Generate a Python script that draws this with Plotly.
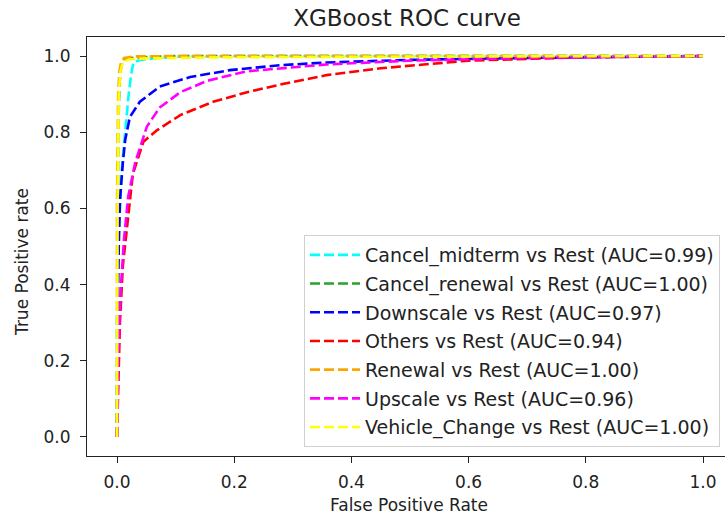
import plotly.graph_objects as go

# ---- data ----
class_names = ["Cancel_midterm", "Cancel_renewal", "Downscale", "Others",
               "Renewal", "Upscale", "Vehicle_Change"]
auc_values = [0.99, 1.00, 0.97, 0.94, 1.00, 0.96, 1.00]
line_colors = ["#00FFFF", "#2ca02c", "#0000FF", "#FF0000", "#FFA500", "#FF00FF", "#FFFF00"]

fpr_cancel_midterm = [0, 0.000, 0.002, 0.005, 0.008, 0.012, 0.016, 0.020, 0.024, 0.028, 0.04, 0.07, 0.1, 0.2, 0.5, 1.0]
tpr_cancel_midterm = [0, 0.30, 0.50, 0.62, 0.70, 0.77, 0.84, 0.90, 0.95, 0.983, 0.990, 0.995, 0.998, 1.0, 1.0, 1.0]

fpr_cancel_renewal = [0, 0.001, 0.002, 0.004, 0.006, 0.009, 0.014, 0.03, 0.06, 0.1, 1.0]
tpr_cancel_renewal = [0, 0.50, 0.80, 0.92, 0.96, 0.985, 0.993, 0.996, 0.998, 1.0, 1.0]

fpr_downscale = [0, 0.001, 0.003, 0.005, 0.010, 0.014, 0.022, 0.039, 0.073, 0.125, 0.193, 0.278, 0.358, 0.5, 0.7, 0.85, 1.0]
tpr_downscale = [0, 0.30, 0.50, 0.62, 0.72, 0.78, 0.84, 0.880, 0.920, 0.945, 0.963, 0.976, 0.983, 0.990, 0.995, 0.998, 1.0]

fpr_others = [0, 0.002, 0.005, 0.010, 0.017, 0.027, 0.045, 0.068, 0.108, 0.164, 0.222, 0.278, 0.358, 0.45, 0.6, 0.8, 1.0]
tpr_others = [0, 0.15, 0.30, 0.45, 0.55, 0.69, 0.775, 0.805, 0.845, 0.880, 0.905, 0.925, 0.950, 0.968, 0.988, 0.997, 1.0]

fpr_renewal = [0, 0.000, 0.002, 0.004, 0.007, 0.012, 0.03, 0.1, 1.0]
tpr_renewal = [0, 0.60, 0.90, 0.96, 0.985, 0.995, 0.999, 1.0, 1.0]

fpr_upscale = [0, 0.002, 0.006, 0.012, 0.019, 0.031, 0.051, 0.073, 0.108, 0.154, 0.222, 0.358, 0.5, 0.7, 0.85, 1.0]
tpr_upscale = [0, 0.20, 0.38, 0.52, 0.63, 0.72, 0.815, 0.865, 0.905, 0.935, 0.960, 0.978, 0.988, 0.995, 0.998, 1.0]

fpr_vehicle_change = [0, 0.001, 0.003, 0.006, 0.010, 0.02, 0.05, 0.2, 0.6, 1.0]
tpr_vehicle_change = [0, 0.60, 0.90, 0.96, 0.985, 0.991, 0.994, 0.997, 0.999, 1.0]

fprs = [fpr_cancel_midterm, fpr_cancel_renewal, fpr_downscale, fpr_others,
        fpr_renewal, fpr_upscale, fpr_vehicle_change]
tprs = [tpr_cancel_midterm, tpr_cancel_renewal, tpr_downscale, tpr_others,
        tpr_renewal, tpr_upscale, tpr_vehicle_change]

x_ticks = [0.0, 0.2, 0.4, 0.6, 0.8, 1.0]
y_ticks = [0.0, 0.2, 0.4, 0.6, 0.8, 1.0]

FONT = "DejaVu Sans"
TXT = "#222222"

fig = go.Figure()
for i, name in enumerate(class_names):
    fig.add_trace(go.Scatter(
        x=fprs[i], y=tprs[i], mode="lines",
        name=f"{name} vs Rest (AUC={auc_values[i]:.2f})",
        legendgroup=f"g{i}",
        line=dict(color=line_colors[i], width=2.6, dash="10px,4px"),
    ))

fig.update_layout(
    width=725, height=523,
    margin=dict(l=87, r=0, t=37, b=67),
    paper_bgcolor="white", plot_bgcolor="white",
    font=dict(family=FONT, size=17, color=TXT),
    title=dict(text="XGBoost ROC curve", x=407/725, xref="container", xanchor="center",
               y=1 - 18/523, yref="container", yanchor="middle",
               font=dict(size=23, family=FONT, color=TXT)),
    showlegend=True,
    legend=dict(x=(720 - 87)/638, xanchor="right", y=(456 - 447)/419, yanchor="bottom",
                bgcolor="rgba(255,255,255,0.85)", bordercolor="#d0d0d0", borderwidth=1,
                font=dict(size=19, family=FONT, color=TXT),
                tracegroupgap=1, itemwidth=50),
    xaxis=dict(range=[-0.0512, 1.0375], tickvals=x_ticks, ticktext=[f"{v:.1f}" for v in x_ticks],
               showgrid=False, zeroline=False, showline=True, linecolor="#222", linewidth=1,
               mirror=True, ticks="outside", ticklen=6, tickcolor="#222", ticklabelstandoff=5),
    yaxis=dict(range=[-0.05, 1.05], tickvals=y_ticks, ticktext=[f"{v:.1f}" for v in y_ticks],
               showgrid=False, zeroline=False, showline=True, linecolor="#222", linewidth=1,
               ticks="outside", ticklen=6, tickcolor="#222", ticklabelstandoff=6),
    annotations=[
        dict(text="False Positive Rate", x=(409 - 87)/638, y=-(505 - 456)/419,
             xref="paper", yref="paper", xanchor="center", yanchor="middle",
             showarrow=False, font=dict(size=17, family=FONT, color=TXT)),
        dict(text="True Positive rate", x=-(87 - 22)/638, y=(456 - 262)/419,
             xref="paper", yref="paper", xanchor="center", yanchor="middle",
             textangle=-90, showarrow=False, font=dict(size=17, family=FONT, color=TXT)),
    ],
)

fig.write_html("out.html")
